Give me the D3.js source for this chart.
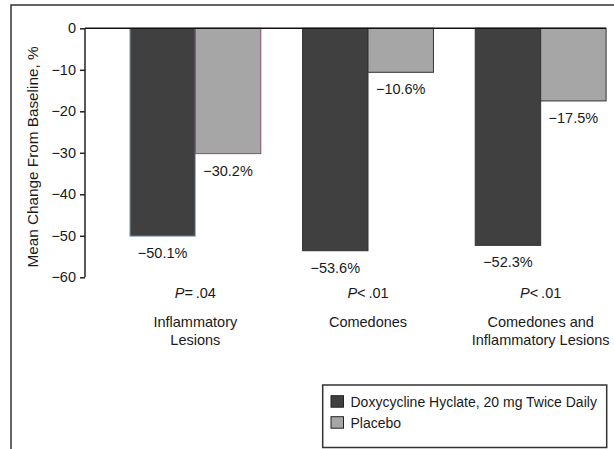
<!DOCTYPE html>
<html><head><meta charset="utf-8">
<script src="https://cdn.jsdelivr.net/npm/d3@7"></script>
<style>
body{margin:0;background:#fff;}
svg{display:block;font-family:"Liberation Sans",Arial,sans-serif;}
</style></head>
<body>
<svg id="c" width="614" height="449"></svg>
<script>
const categories = [["Inflammatory","Lesions"],["Comedones"],["Comedones and","Inflammatory Lesions"]];
const pValues = [["=",".04"],["<",".01"],["<",".01"]];
const seriesNames = ["Doxycycline Hyclate, 20 mg Twice Daily","Placebo"];
const doxycycline = [-50.1,-53.6,-52.3];
const placebo = [-30.2,-10.6,-17.5];
const yTicks = [0,-10,-20,-30,-40,-50,-60];

const colors = ["#404040","#a6a6a6"];
const svg = d3.select("#c");
const FS = 14.5;
const TXT = "#1a1a1a";

// frame
svg.append("path").attr("d","M11,449V5H614").attr("fill","none").attr("stroke","#333").attr("stroke-width",1.5);

const y = d3.scaleLinear().domain([-60,0]).range([277.3,28.3]);
const x0 = d3.scaleBand().domain(d3.range(3)).range([109,627]).paddingInner(0.242).paddingOuter(0.121);
const x1 = d3.scaleBand().domain([0,1]).range([0,x0.bandwidth()]);

const series = [doxycycline, placebo];
const barStroke = (s,i)=> s===0 ? (i===0 ? "#8fb0c8" : "#333") : (i===0 ? "#8a4a70" : "#333");

const g = svg.append("g");
series.forEach((vals,s)=>{
  g.selectAll(".b"+s).data(vals).join("rect")
    .attr("x",(d,i)=>x0(i)+x1(s))
    .attr("y",y(0))
    .attr("width",x1.bandwidth())
    .attr("height",d=>y(d)-y(0))
    .attr("fill",colors[s])
    .attr("stroke",(d,i)=>barStroke(s,i))
    .attr("stroke-width",1);
  g.selectAll(".l"+s).data(vals).join("text")
    .attr("x",(d,i)=>x0(i)+x1(s)+x1.bandwidth()/2)
    .attr("y",d=>y(d)+22)
    .attr("text-anchor","middle")
    .attr("font-size",FS).attr("fill",TXT)
    .text(d=>"\u2212"+Math.abs(d).toFixed(1)+"%");
});

// zero line
svg.append("line").attr("x1",85).attr("x2",x0(2)+x0.bandwidth()).attr("y1",y(0)).attr("y2",y(0))
  .attr("stroke","#111").attr("stroke-width",1.5);

// y axis
const ax = svg.append("g").attr("transform","translate(85,0)")
  .call(d3.axisLeft(y).tickValues(yTicks).tickSize(5).tickPadding(4).tickFormat(d=>d===0?"0":"\u2212"+Math.abs(d)));
ax.select(".domain").attr("stroke","#222").attr("stroke-width",1.5).attr("d","M0,"+y(0)+"V"+y(-60));
ax.selectAll(".tick line").attr("stroke","#222").attr("stroke-width",1.5);
ax.selectAll(".tick text").attr("font-size",FS).attr("fill",TXT).attr("font-family","Liberation Sans,Arial,sans-serif");

svg.append("text").attr("transform","translate(38,157) rotate(-90)")
  .attr("text-anchor","middle").attr("font-size",15.3).attr("fill",TXT)
  .text("Mean Change From Baseline, %");

// category labels
categories.forEach((lines,i)=>{
  const cx = x0(i)+x0.bandwidth()/2;
  const t = svg.append("text").attr("x",cx).attr("y",298).attr("text-anchor","middle").attr("font-size",FS).attr("fill",TXT);
  t.append("tspan").attr("font-style","italic").text("P");
  t.append("tspan").text(pValues[i][0]+"\u2009"+pValues[i][1]);
  lines.forEach((ln,k)=>{
    svg.append("text").attr("x",cx).attr("y",327+k*18).attr("text-anchor","middle")
      .attr("font-size",FS).attr("fill",TXT).text(ln);
  });
});

// legend
const lg = svg.append("g");
lg.append("rect").attr("x",322.7).attr("y",385).attr("width",284).attr("height",62.5)
  .attr("fill","#fff").attr("stroke","#333").attr("stroke-width",1.5);
seriesNames.forEach((n,i)=>{
  lg.append("rect").attr("x",331).attr("y",395.7+i*21).attr("width",12.5).attr("height",11.5)
    .attr("fill",colors[i]).attr("stroke","#222").attr("stroke-width",1);
  lg.append("text").attr("x",350.5).attr("y",406.7+i*21).attr("font-size",14).attr("fill",TXT).text(n);
});
</script>
</body></html>
